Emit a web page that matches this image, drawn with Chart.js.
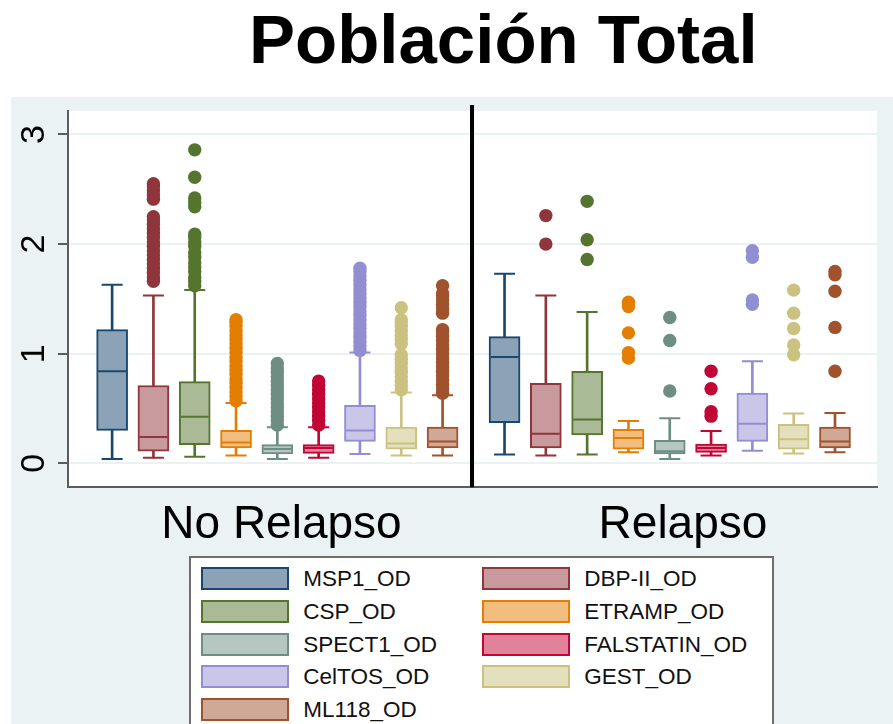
<!DOCTYPE html>
<html lang="es">
<head>
<meta charset="UTF-8">
<title>Población Total</title>
<script src="https://cdn.jsdelivr.net/npm/chart.js@4/dist/chart.umd.min.js"></script>
<style>
  * { box-sizing: border-box; margin: 0; padding: 0; }
  html, body { width: 893px; height: 724px; overflow: hidden; background: #fff; }
  body { position: relative; font-family: 'Liberation Sans', Arial, sans-serif; }
  #wrap { position: absolute; left: 0; top: 0; width: 893px; height: 724px; }
  h1 { position: absolute; left: 249px; top: 5px; font-size: 69px; line-height: 69px;
       font-weight: 700; color: #000; white-space: nowrap; }
  #legend { position: absolute; left: 189px; top: 556px; width: 585px; height: 190px;
            background: #fff; border: 2px solid #6e6e6e; }
  .sw { position: absolute; width: 88px; height: 23px; border: 2px solid; }
  .lb { position: absolute; font-size: 22.5px; line-height: 23px; color: #111; white-space: nowrap; }
</style>
</head>
<body>
<div id="wrap"><canvas id="chart"></canvas></div>
<h1>Población Total</h1>
<div id="legend"></div>

<script>
// ── Data ─────────────────────────────────────────────────────────────────────

const SERIES = ['MSP1_OD', 'DBP-II_OD', 'CSP_OD', 'ETRAMP_OD', 'SPECT1_OD',
                'FALSTATIN_OD', 'CelTOS_OD', 'GEST_OD', 'ML118_OD'];
const GROUPS = ['No Relapso', 'Relapso'];
const Y_TICKS = [0, 1, 2, 3];

// No Relapso: whisker ends, quartiles, median
const NR_LOW  = [0.04, 0.05, 0.06, 0.07, 0.04, 0.05, 0.085, 0.07, 0.07];
const NR_Q1   = [0.30, 0.11, 0.17, 0.14, 0.085, 0.09, 0.20, 0.13, 0.14];
const NR_MED  = [0.84, 0.24, 0.425, 0.19, 0.13, 0.14, 0.30, 0.18, 0.20];
const NR_Q3   = [1.22, 0.71, 0.745, 0.30, 0.17, 0.17, 0.53, 0.33, 0.33];
const NR_HIGH = [1.63, 1.53, 1.58, 0.55, 0.33, 0.33, 1.01, 0.645, 0.62];

const NR_OUT = [
  [],
  [1.66, 1.70, 1.74, 1.78, 1.82, 1.86, 1.90, 1.94, 1.98, 2.02, 2.06, 2.10, 2.14, 2.18, 2.22, 2.25,
   2.41, 2.45, 2.49, 2.53, 2.55],
  [1.62, 1.66, 1.70, 1.75, 1.79, 1.83, 1.88, 1.92, 1.98, 2.02, 2.06, 2.09, 2.34, 2.38, 2.42, 2.61, 2.86],
  [0.57, 0.61, 0.65, 0.69, 0.73, 0.77, 0.81, 0.85, 0.89, 0.93, 0.97, 1.01, 1.05, 1.09, 1.13, 1.17,
   1.21, 1.25, 1.29, 1.31],
  [0.35, 0.39, 0.43, 0.47, 0.51, 0.55, 0.59, 0.63, 0.67, 0.71, 0.75, 0.79, 0.83, 0.87, 0.91],
  [0.35, 0.39, 0.43, 0.47, 0.51, 0.55, 0.59, 0.63, 0.67, 0.71, 0.75],
  [1.03, 1.07, 1.11, 1.15, 1.19, 1.23, 1.27, 1.31, 1.35, 1.39, 1.43, 1.47, 1.51, 1.55, 1.59, 1.63,
   1.67, 1.71, 1.75, 1.78],
  [0.67, 0.71, 0.75, 0.79, 0.83, 0.87, 0.91, 0.95, 0.99, 1.09, 1.13, 1.17, 1.21, 1.25, 1.29, 1.31, 1.42],
  [0.64, 0.68, 0.72, 0.76, 0.80, 0.84, 0.88, 0.92, 0.96, 1.00, 1.04, 1.08, 1.12, 1.16, 1.20, 1.22,
   1.37, 1.41, 1.45, 1.49, 1.53, 1.55, 1.62],
];

// Relapso
const R_LOW  = [0.08, 0.07, 0.08, 0.10, 0.04, 0.07, 0.115, 0.09, 0.10];
const R_Q1   = [0.37, 0.14, 0.26, 0.13, 0.085, 0.10, 0.20, 0.13, 0.14];
const R_MED  = [0.97, 0.27, 0.40, 0.23, 0.11, 0.14, 0.36, 0.22, 0.20];
const R_Q3   = [1.155, 0.73, 0.84, 0.31, 0.21, 0.175, 0.64, 0.355, 0.33];
const R_HIGH = [1.73, 1.53, 1.38, 0.385, 0.41, 0.295, 0.93, 0.455, 0.46];

const R_OUT = [
  [],
  [2.00, 2.26],
  [1.86, 2.04, 2.39],
  [0.96, 1.01, 1.19, 1.43, 1.47],
  [0.66, 1.12, 1.33],
  [0.43, 0.47, 0.68, 0.84],
  [1.45, 1.49, 1.88, 1.94],
  [0.99, 1.08, 1.23, 1.37, 1.58],
  [0.84, 1.24, 1.57, 1.72, 1.75],
];

// ── Styling / layout ─────────────────────────────────────────────────────────

const STROKE = ['#1a476f', '#90353b', '#55752f', '#e37e00', '#6e8e84',
                '#c10534', '#938dd2', '#cac27e', '#a0522d'];
const FILL   = ['#8ca3b7', '#c89a9d', '#aaba97', '#f1be80', '#b6c6c1',
                '#e0829a', '#c9c6e8', '#e4e0be', '#cfa896'];

const X_MIN = -1.068, X_MAX = 18.517;
const Y_MIN = -0.219, Y_MAX = 3.217;
const GROUP_START = [0, 9.5];
const GROUP_CENTER = [4.1, 13.82];
const DIVIDER_X = 8.713;
const DIVIDER_TOP = 3.27;

// ── Build datasets ───────────────────────────────────────────────────────────

const groups = [
  { low: NR_LOW, q1: NR_Q1, med: NR_MED, q3: NR_Q3, high: NR_HIGH, out: NR_OUT },
  { low: R_LOW,  q1: R_Q1,  med: R_MED,  q3: R_Q3,  high: R_HIGH,  out: R_OUT },
];

const whisk = [], boxes = [], meds = [], caps = [], outs = [];
const boxColor = [], boxFill = [], capColor = [], outColor = [];

groups.forEach((g, gi) => {
  SERIES.forEach((name, k) => {
    const x = GROUP_START[gi] + k;
    whisk.push({ x, y: [g.low[k], g.high[k]] });
    boxes.push({ x, y: [g.q1[k], g.q3[k]] });
    meds.push({ x, y: g.med[k] });
    caps.push({ x, y: g.low[k] }, { x, y: g.high[k] });
    capColor.push(STROKE[k], STROKE[k]);
    boxColor.push(STROKE[k]);
    boxFill.push(FILL[k]);
    g.out[k].forEach((v) => { outs.push({ x, y: v }); outColor.push(STROKE[k]); });
  });
});

// graph region (light blue) + white plot region
const backdrop = {
  id: 'backdrop',
  beforeDraw(chart) {
    const { ctx, chartArea: a } = chart;
    ctx.save();
    ctx.fillStyle = '#eaf2f3';
    ctx.fillRect(11, 97, chart.width - 11, chart.height - 97);
    ctx.fillStyle = '#fff';
    ctx.fillRect(a.left, a.top, a.right - a.left, a.bottom - a.top);
    ctx.restore();
  },
};

new Chart(document.getElementById('chart'), {
  type: 'bar',
  data: {
    datasets: [
      { type: 'line', data: [{ x: DIVIDER_X, y: Y_MIN }, { x: DIVIDER_X, y: DIVIDER_TOP }],
        borderColor: '#000', borderWidth: 4, pointRadius: 0, clip: false, order: 0 },
      { type: 'scatter', data: outs, pointStyle: 'circle', pointRadius: 6.7,
        pointBackgroundColor: outColor, pointBorderWidth: 0, order: 1 },
      { type: 'scatter', data: meds, pointStyle: 'line', pointRadius: 14,
        pointBorderColor: boxColor, pointBorderWidth: 2, order: 2 },
      { type: 'bar', data: boxes, backgroundColor: boxFill, borderColor: boxColor, borderWidth: 2,
        borderSkipped: false, barThickness: 31, grouped: false, order: 3 },
      { type: 'scatter', data: caps, pointStyle: 'line', pointRadius: 10.5,
        pointBorderColor: capColor, pointBorderWidth: 2, order: 4 },
      { type: 'bar', data: whisk, backgroundColor: boxColor, borderWidth: 0,
        barThickness: 2, grouped: false, order: 5 },
    ],
  },
  options: {
    responsive: true,
    maintainAspectRatio: false,
    animation: false,
    layout: { padding: { top: 110.7, bottom: 166.7, left: 0, right: 0 } },
    plugins: { legend: { display: false }, tooltip: { enabled: false } },
    scales: {
      x: {
        type: 'linear', min: X_MIN, max: X_MAX, offset: false,
        grid: { drawOnChartArea: false, drawTicks: false, offset: false },
        border: { display: true, color: '#5c5c5c', width: 2 },
        afterBuildTicks: (s) => { s.ticks = GROUP_CENTER.map((v) => ({ value: v })); },
        ticks: { callback: (v, i) => GROUPS[i], autoSkip: false, maxRotation: 0, padding: 10,
                 color: '#000', font: { family: 'Liberation Sans', size: 46 } },
        afterFit: (s) => { s.height = 70; },
      },
      y: {
        min: Y_MIN, max: Y_MAX,
        afterBuildTicks: (s) => { s.ticks = Y_TICKS.map((v) => ({ value: v })); },
        grid: { color: '#eaf2f3', lineWidth: 2, tickColor: '#5c5c5c', tickWidth: 2, tickLength: 10 },
        border: { color: '#5c5c5c', width: 2 },
        ticks: { minRotation: 90, maxRotation: 90, crossAlign: 'center', padding: 13.5,
                 color: '#000', font: { family: 'Liberation Sans', size: 34 } },
        afterFit: (s) => { s.width = 68; },
      },
    },
  },
  plugins: [backdrop],
});

// ── Legend (two columns, row-major) ──────────────────────────────────────────

const legend = document.getElementById('legend');
SERIES.forEach((name, i) => {
  const col = i % 2, row = Math.floor(i / 2);
  const top = 9.3 + row * 32.7;
  const sw = document.createElement('div');
  sw.className = 'sw';
  sw.style.left = (9.7 + col * 281) + 'px';
  sw.style.top = top + 'px';
  sw.style.background = FILL[i];
  sw.style.borderColor = STROKE[i];
  legend.appendChild(sw);
  const lb = document.createElement('div');
  lb.className = 'lb';
  lb.style.left = (112.3 + col * 281) + 'px';
  lb.style.top = top + 'px';
  lb.textContent = name;
  legend.appendChild(lb);
});
</script>
</body>
</html>
